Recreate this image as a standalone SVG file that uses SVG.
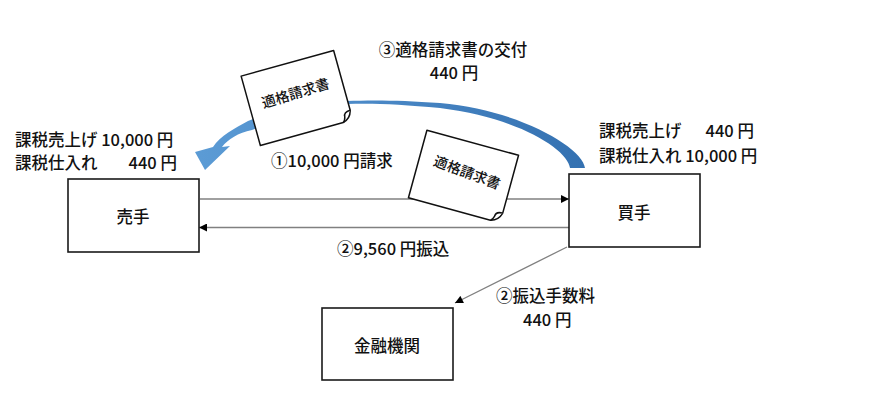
<svg xmlns="http://www.w3.org/2000/svg" width="874" height="414" viewBox="0 0 874 414">
  <style>
    text { font-family: "Noto Sans CJK JP", "Noto Sans", sans-serif; fill: #111; font-size: 16.5px; font-weight: 500; }
    .box { fill: #fff; stroke: #1a1a1a; stroke-width: 1.6; }
    .doc { fill: #fff; stroke: #111; stroke-width: 1.5; stroke-linejoin: round; }
    .conn { stroke: #808080; stroke-width: 1.3; fill: none; }
    .mid { text-anchor: middle; }
    .end { text-anchor: end; }
    .small { font-size: 14px; }
  </style>
  <defs>
    <marker id="ah" viewBox="0 0 10 10" refX="10" refY="5" markerWidth="10" markerHeight="8" markerUnits="userSpaceOnUse" orient="auto">
      <path d="M0,0 L10,5 L0,10 Z" fill="#000"/>
    </marker>
    <linearGradient id="blue" gradientUnits="userSpaceOnUse" x1="200" y1="0" x2="585" y2="0">
      <stop offset="0" stop-color="#5b9bd5"/>
      <stop offset="0.45" stop-color="#4a88c6"/>
      <stop offset="1" stop-color="#3471b1"/>
    </linearGradient>
  </defs>
  <rect width="874" height="414" fill="#fff"/>

  <g id="connectors">
    <line class="conn" x1="200" y1="199" x2="569" y2="199" marker-end="url(#ah)"/>
    <line class="conn" x1="569" y1="227.5" x2="199" y2="227.5" marker-end="url(#ah)"/>
    <line class="conn" x1="567" y1="247" x2="455" y2="303" marker-end="url(#ah)"/>
    <path id="curved-arrow" fill="url(#blue)" d="M585,168 C583,148 520,110 440,103 C400,100 370,100 347,101 C310,103 275,110 248,121 C235,128 220,136 213,147 L195,152 L205,170 L230,146 L222,147 C228,139 238,133 252,130 C280,120 315,107 347,104 C370,103 400,104 440,108 C520,118 568,150 570,168 Z"/>
  </g>

  <g id="seller">
    <rect class="box" x="68" y="179" width="131" height="73"/>
    <text class="mid" x="133" y="223">売手</text>
  </g>
  <g id="buyer">
    <rect class="box" x="569" y="174" width="131" height="73"/>
    <text class="mid" x="634" y="219">買手</text>
  </g>
  <g id="bank">
    <rect class="box" x="322" y="308" width="131" height="72"/>
    <text class="mid" x="387" y="352">金融機関</text>
  </g>

  <g id="invoice-top" transform="translate(297,98) rotate(-15.5)">
    <path class="doc" d="M-48,-36 H48 V26 Q46,34 38,36 H-48 Z"/>
    <path class="doc" d="M48,26 Q41,26 41,31 Q40,35 38,36"/>
    <text class="small mid" x="0" y="0" transform="rotate(-1.5)">適格請求書</text>
  </g>
  <g id="invoice-bottom" transform="translate(463.5,176.5) rotate(15.3)">
    <path class="doc" d="M-47.5,-35 H47.5 V25 Q45.5,33 37.5,35 H-47.5 Z"/>
    <path class="doc" d="M47.5,25 Q40.5,25 40.5,30 Q39.5,34 37.5,35"/>
    <text class="small mid" x="2" y="0" transform="rotate(5)">適格請求書</text>
  </g>

  <g id="labels">
    <text class="mid" x="453" y="56">③適格請求書の交付</text>
    <text class="mid" x="454" y="79">440 円</text>

    <text x="15" y="146">課税売上げ 10,000 円</text>
    <text x="15" y="169">課税仕入れ</text>
    <text class="end" x="177" y="169">440 円</text>

    <text x="599" y="137">課税売上げ</text>
    <text class="end" x="754" y="137">440 円</text>
    <text x="599" y="162">課税仕入れ 10,000 円</text>

    <text x="271" y="167">①10,000 円請求</text>
    <text x="337" y="255">②9,560 円振込</text>
    <text x="496" y="302">②振込手数料</text>
    <text x="523" y="326">440 円</text>
  </g>
</svg>
